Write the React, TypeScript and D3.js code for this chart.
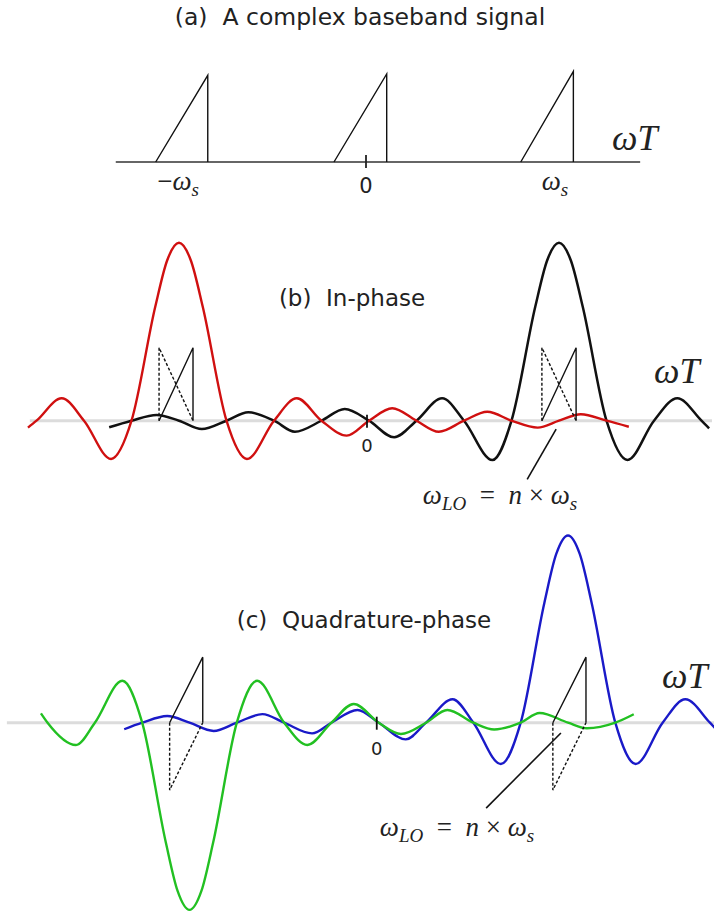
import React from 'react';
import * as d3 from 'd3';

type Pt = [number, number];

// ---- panel (a): baseband spectrum, x in units of ws, height normalised ----
const aAxisExtent = [-1.36, 1.49];
const aTickValues = [-1, 0, 1];
const aTickLabels = ['-ws', '0', 'ws'];
const aTriStart = [-1.143, -0.174, 0.841];
const aTriEnd = [-0.86, 0.1125, 1.127];
const aTriHeight = [0.985, 1.0, 1.03];

// ---- panel (b): in-phase, x in sample units, amplitude normalised to main lobe ----
const bBaseline = [-7.14, 7.22];
const redPoints: Pt[] = [
  [-7.18, -0.039], [-7, 0], [-6.47, 0.126], [-6, 0], [-5.43, -0.215], [-5, 0],
  [-4.5, 0.64], [-4.25, 0.9], [-4, 1.0], [-3.75, 0.9], [-3.5, 0.64], [-3, 0],
  [-2.57, -0.215], [-2, 0], [-1.52, 0.126], [-1, 0], [-0.47, -0.084], [0, 0],
  [0.49, 0.07], [1, 0], [1.47, -0.062], [2, 0], [2.49, 0.05], [3, 0],
  [3.55, -0.039], [4, 0], [4.46, 0.036], [5, 0], [5.47, -0.034],
];
const blackPoints: Pt[] = [
  [-5.47, -0.037], [-5, 0], [-4.47, 0.032], [-4, 0], [-3.52, -0.047], [-3, 0],
  [-2.54, 0.047], [-2, 0], [-1.56, -0.062], [-1, 0], [-0.51, 0.066], [0, 0],
  [0.53, -0.093], [1, 0], [1.54, 0.126], [2, 0], [2.6, -0.221], [3, 0],
  [3.5, 0.64], [3.75, 0.9], [4, 1.0], [4.25, 0.9], [4.5, 0.64], [5, 0],
  [5.44, -0.221], [6, 0], [6.49, 0.126], [7, 0], [7.16, -0.043],
];
const bTriStart = [-4.42, 3.64];
const bTriEnd = [-3.705, 4.36];
const bTriHeight = 0.41;
const bPointer: Pt[] = [[3.94, -0.047], [3.33, -0.33]];

// ---- panel (c): quadrature-phase ----
const cBaseline = [-7.86, 7.3];
const greenPoints: Pt[] = [
  [-7.14, 0.05], [-7, 0], [-6.4, -0.119], [-6, 0], [-5.42, 0.224], [-5, 0],
  [-4.5, -0.64], [-4.25, -0.9], [-4, -1.0], [-3.75, -0.9], [-3.5, -0.64], [-3, 0],
  [-2.57, 0.224], [-2, 0], [-1.51, -0.119], [-1, 0], [-0.53, 0.1], [0, 0],
  [0.47, -0.06], [1, 0], [1.45, 0.068], [2, 0], [2.44, -0.036], [3, 0],
  [3.4, 0.052], [4, 0], [4.4, -0.03], [5, 0], [5.39, 0.045],
];
const bluePoints: Pt[] = [
  [-5.38, -0.035], [-5, 0], [-4.47, 0.036], [-4, 0], [-3.49, -0.044], [-3, 0],
  [-2.46, 0.046], [-2, 0], [-1.41, -0.057], [-1, 0], [-0.45, 0.068], [0, 0],
  [0.57, -0.089], [1, 0], [1.56, 0.125], [2, 0], [2.58, -0.221], [3, 0],
  [3.5, 0.64], [3.75, 0.9], [4, 1.0], [4.25, 0.9], [4.5, 0.64], [5, 0],
  [5.43, -0.221], [6, 0], [6.48, 0.125], [7, 0], [7.16, -0.043],
];
const cTriStart = [-4.42, 3.68];
const cTriEnd = [-3.72, 4.38];
const cTriHeight = 0.35;
const cTriDepth = -0.36;
const cPointer: Pt[] = [[3.85, -0.055], [2.27, -0.456]];

const SANS = 'DejaVu Sans, sans-serif';
const MATH = 'Liberation Serif, serif';

function LoLabel({ x, y }: { x: number; y: number }) {
  return (
    <text x={x} y={y} textAnchor="middle" fontFamily={MATH} fontSize={27} fill="#222" xmlSpace="preserve">
      <tspan fontStyle="italic">ω</tspan>
      <tspan fontStyle="italic" fontSize={19} dy={6}>LO</tspan>
      <tspan dy={-6}>{'  =  '}</tspan>
      <tspan fontStyle="italic">n</tspan>
      <tspan>{' × '}</tspan>
      <tspan fontStyle="italic">ω</tspan>
      <tspan fontStyle="italic" fontSize={19} dy={6}>s</tspan>
    </text>
  );
}

function WT({ x, y }: { x: number; y: number }) {
  return (
    <text x={x} y={y} fontFamily={MATH} fontStyle="italic" fontSize={36} fill="#222">
      ωT
    </text>
  );
}

export default function App() {
  // panel (a) scales
  const xa = d3.scaleLinear().domain([0, 1]).range([366, 550]);
  const ya = d3.scaleLinear().domain([0, 1]).range([162, 74]);
  // panel (b)
  const xb = d3.scaleLinear().domain([-4, 4]).range([179, 559]);
  const yb = d3.scaleLinear().domain([0, 1]).range([420.7, 242.7]);
  // panel (c)
  const xc = d3.scaleLinear().domain([-4, 4]).range([189.5, 568]);
  const yc = d3.scaleLinear().domain([0, 1]).range([722.7, 535.5]);

  const lineB = d3.line<Pt>().x(d => xb(d[0])).y(d => yb(d[1])).curve(d3.curveMonotoneX);
  const lineC = d3.line<Pt>().x(d => xc(d[0])).y(d => yc(d[1])).curve(d3.curveMonotoneX);
  const straightB = d3.line<Pt>().x(d => xb(d[0])).y(d => yb(d[1]));
  const straightC = d3.line<Pt>().x(d => xc(d[0])).y(d => yc(d[1]));
  const straightA = d3.line<Pt>().x(d => xa(d[0])).y(d => ya(d[1]));

  return (
    <svg
      width={714}
      height={912}
      style={{ position: 'absolute', left: 0, top: 0, background: '#fff' }}
    >
      {/* (a) */}
      <text x={360} y={25} textAnchor="middle" fontFamily={SANS} fontSize={23.5} fill="#222" xmlSpace="preserve">
        (a)  A complex baseband signal
      </text>
      <line x1={xa(aAxisExtent[0])} x2={xa(aAxisExtent[1])} y1={ya(0)} y2={ya(0)} stroke="#333" strokeWidth={1.6} />
      <line x1={xa(0)} x2={xa(0)} y1={ya(0) - 7} y2={ya(0) + 6} stroke="#222" strokeWidth={1.8} />
      {aTriStart.map((s, i) => (
        <path
          key={i}
          d={straightA([[s, 0], [aTriEnd[i], aTriHeight[i]], [aTriEnd[i], 0]]) || ''}
          fill="none"
          stroke="#111"
          strokeWidth={1.4}
        />
      ))}
      {aTickValues.map((v, i) =>
        aTickLabels[i] === '0' ? (
          <text key={i} x={xa(v)} y={ya(0) + 31} textAnchor="middle" fontFamily={SANS} fontSize={21} fill="#222">0</text>
        ) : (
          <text key={i} x={xa(v) + (v < 0 ? -4 : 5)} y={ya(0) + 28} textAnchor="middle" fontFamily={MATH} fontSize={27} fill="#222">
            {v < 0 ? '−' : ''}
            <tspan fontStyle="italic">ω</tspan>
            <tspan fontStyle="italic" fontSize={19} dy={6}>s</tspan>
          </text>
        )
      )}
      <WT x={612} y={150} />

      {/* (b) */}
      <line x1={xb(bBaseline[0])} x2={xb(bBaseline[1])} y1={yb(0)} y2={yb(0)} stroke="#dcdcdc" strokeWidth={3} />
      <text x={352} y={306} textAnchor="middle" fontFamily={SANS} fontSize={23} fill="#222" xmlSpace="preserve">
        (b)  In-phase
      </text>
      <path d={lineB(blackPoints) || ''} fill="none" stroke="#111" strokeWidth={2.5} />
      <path d={lineB(redPoints) || ''} fill="none" stroke="#d01010" strokeWidth={2.4} />
      {bTriStart.map((s, i) => (
        <g key={i} fill="none" stroke="#111" strokeWidth={1.4}>
          <path d={straightB([[s, 0], [bTriEnd[i], bTriHeight], [bTriEnd[i], 0]]) || ''} />
          <path d={straightB([[s, 0], [s, bTriHeight], [bTriEnd[i], 0]]) || ''} strokeDasharray="3,2" />
        </g>
      ))}
      <line x1={xb(0) - 2} x2={xb(0) - 2} y1={yb(0) - 6} y2={yb(0) + 7} stroke="#111" strokeWidth={1.8} />
      <text x={xb(0) - 2} y={452} textAnchor="middle" fontFamily={SANS} fontSize={18} fill="#222">0</text>
      <path d={straightB(bPointer) || ''} stroke="#111" strokeWidth={1.6} fill="none" />
      <LoLabel x={500} y={504} />
      <WT x={654} y={383} />

      {/* (c) */}
      <line x1={xc(cBaseline[0])} x2={xc(cBaseline[1])} y1={yc(0)} y2={yc(0)} stroke="#dcdcdc" strokeWidth={3} />
      <text x={364} y={628} textAnchor="middle" fontFamily={SANS} fontSize={23} fill="#222" xmlSpace="preserve">
        (c)  Quadrature-phase
      </text>
      <path d={lineC(bluePoints) || ''} fill="none" stroke="#1a1ac8" strokeWidth={2.4} />
      <path d={lineC(greenPoints) || ''} fill="none" stroke="#22c022" strokeWidth={2.4} />
      {cTriStart.map((s, i) => (
        <g key={i} fill="none" stroke="#111" strokeWidth={1.4}>
          <path d={straightC([[s, 0], [cTriEnd[i], cTriHeight], [cTriEnd[i], 0]]) || ''} />
          <path d={straightC([[s, 0], [s, cTriDepth], [cTriEnd[i], 0]]) || ''} strokeDasharray="3,2" />
        </g>
      ))}
      <line x1={xc(0) - 2} x2={xc(0) - 2} y1={yc(0) - 6} y2={yc(0) + 7} stroke="#111" strokeWidth={1.8} />
      <text x={xc(0) - 2} y={755} textAnchor="middle" fontFamily={SANS} fontSize={18} fill="#222">0</text>
      <path d={straightC(cPointer) || ''} stroke="#111" strokeWidth={1.6} fill="none" />
      <LoLabel x={457} y={836} />
      <WT x={662} y={688} />
    </svg>
  );
}
